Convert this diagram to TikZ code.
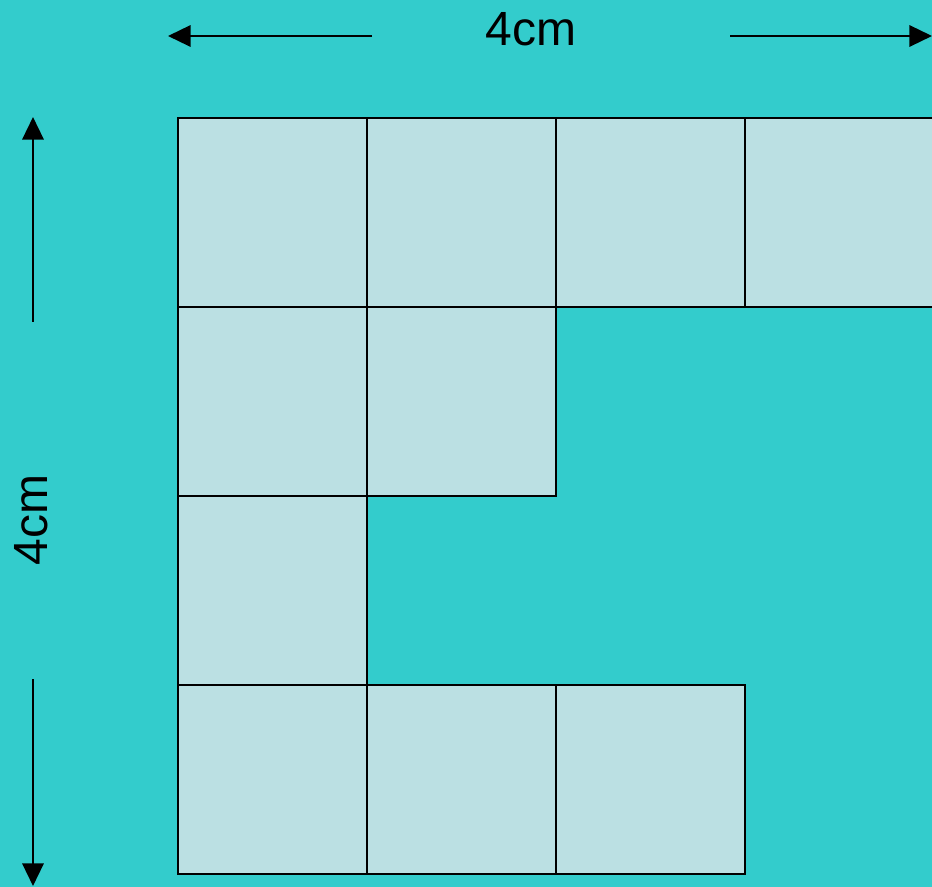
\documentclass[tikz,border=0pt]{standalone}
\usepackage{fontspec}
\setmainfont{Liberation Sans}
\usetikzlibrary{arrows.meta}
\definecolor{bgteal}{HTML}{33CCCC}
\definecolor{tile}{HTML}{BBE0E3}
\begin{document}
\begin{tikzpicture}[x=0.75pt,y=-0.75pt,
  tilebox/.style={draw=black, fill=tile, line width=1.3pt, minimum size=141.75pt, inner sep=0pt, outer sep=0pt, anchor=north west},
  dimarrow/.style={-{Triangle[length=17pt,width=16pt]}, line width=1.8pt, black},
  dimlabel/.style={font=\fontsize{36}{42}\selectfont, inner sep=0pt}]
\useasboundingbox (0,0) rectangle (932,887);
\fill[bgteal] (0,0) rectangle (932,887);
\clip (0,0) rectangle (932,887);
% row 1
\node[tilebox] (a1) at (178,118) {};
\node[tilebox] (a2) at (367,118) {};
\node[tilebox] (a3) at (556,118) {};
\node[tilebox] (a4) at (745,118) {};
% row 2
\node[tilebox] (b1) at (178,307) {};
\node[tilebox] (b2) at (367,307) {};
% row 3
\node[tilebox] (c1) at (178,496) {};
% row 4
\node[tilebox] (d1) at (178,685) {};
\node[tilebox] (d2) at (367,685) {};
\node[tilebox] (d3) at (556,685) {};
% dimension labels
\node[dimlabel] (top) at (531,29) {4cm};
\node[dimlabel, rotate=90] (left) at (31,520) {4cm};
% arrows
\coordinate (tl0) at (372,36);
\coordinate (tl1) at (168,36);
\coordinate (tr0) at (730,36);
\coordinate (tr1) at (932,36);
\coordinate (lu0) at (33,322);
\coordinate (lu1) at (33,117);
\coordinate (ld0) at (33,679);
\coordinate (ld1) at (33,886);
\draw[dimarrow] (tl0) -- (tl1);
\draw[dimarrow] (tr0) -- (tr1);
\draw[dimarrow] (lu0) -- (lu1);
\draw[dimarrow] (ld0) -- (ld1);
\end{tikzpicture}
\end{document}
